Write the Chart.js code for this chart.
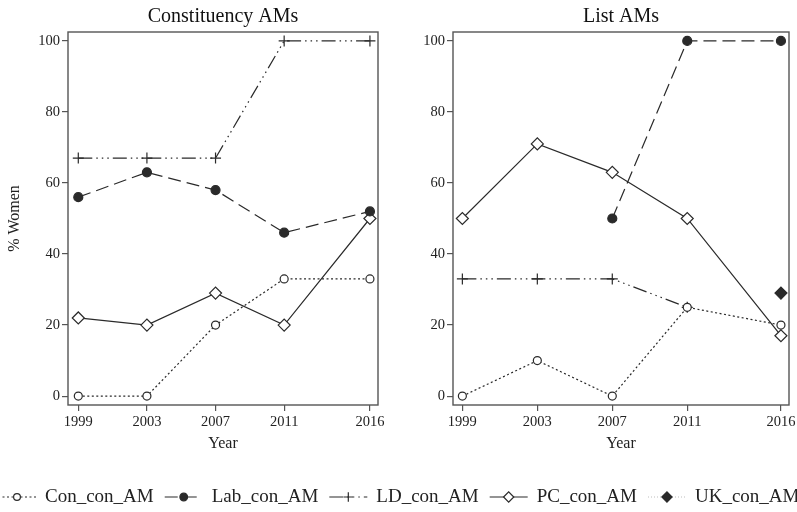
<!DOCTYPE html>
<html>
<head>
<meta charset="utf-8">
<script src="https://cdn.jsdelivr.net/npm/chart.js@4.4.0/dist/chart.umd.min.js"></script>
<style>
  html, body { margin: 0; padding: 0; background: #fff; }
  #wrap { position: relative; width: 797px; height: 512px; overflow: hidden; }
  canvas { position: absolute; }
  #constituency { left: 0; top: 0; }
  #list { left: 397px; top: 0; }
  #key { left: 0; top: 470px; }
</style>
</head>
<body>
<div id="wrap">
  <canvas id="constituency" width="397" height="460"></canvas>
  <canvas id="list" width="400" height="460"></canvas>
  <canvas id="key" width="797" height="42"></canvas>
</div>
<script>
const years = [1999, 2003, 2007, 2011, 2016];
const yTicks = [0, 20, 40, 60, 80, 100];
const seriesNames = ['Con_con_AM', 'Lab_con_AM', 'LD_con_AM', 'PC_con_AM', 'UK_con_AM'];

// % women among constituency AMs
const conConst = [0, 0, 20, 33, 33];
const labConst = [56, 63, 58, 46, 52];
const ldConst  = [67, 67, 67, 100, 100];
const pcConst  = [22, 20, 29, 20, 50];
const ukConst  = [null, null, null, null, null];

// % women among list AMs
const conList = [0, 10, 0, 25, 20];
const labList = [null, null, 50, 100, 100];
const ldList  = [33, 33, 33, 25, null];
const pcList  = [50, 71, 63, 50, 17];
const ukList  = [null, null, null, null, 29];

const SERIF = '"Liberation Serif", "Times New Roman", serif';
const INK = '#2a2a2a';
const FRAME = '#555';

const seriesStyle = [
  { dash: [2, 2.5], point: 'circle', radius: 4, fill: '#fff', line: INK },
  { dash: [13, 6], point: 'circle', radius: 4.5, fill: INK, line: INK },
  { dash: [14, 4, 1.5, 4, 1.5, 4, 1.5, 4], point: 'cross', radius: 5.5, fill: INK, line: INK },
  { dash: [], point: 'rectRot', radius: 6, fill: '#fff', line: INK },
  { dash: [1, 2], point: 'rectRot', radius: 6, fill: INK, line: '#bbb' }
];

function makeDatasets(cols) {
  return cols.map((vals, i) => {
    const st = seriesStyle[i];
    return {
      label: seriesNames[i],
      data: vals ? years.map((yr, j) => ({ x: yr, y: vals[j] })) : [],
      borderColor: st.line,
      borderWidth: 1.2,
      borderDash: st.dash,
      pointStyle: st.point,
      pointRadius: st.radius,
      pointBackgroundColor: st.fill,
      pointBorderColor: INK,
      pointBorderWidth: 1.2,
      tension: 0,
      spanGaps: false,
      clip: false
    };
  });
}

// box round the plot area
const framePlugin = {
  id: 'frame',
  beforeDatasetsDraw(chart) {
    const a = chart.chartArea, ctx = chart.ctx;
    ctx.save();
    ctx.strokeStyle = FRAME;
    ctx.lineWidth = 1.4;
    ctx.strokeRect(a.left, a.top, a.right - a.left, a.bottom - a.top);
    ctx.restore();
  }
};

function panelOptions(title, xMin, xMax, yWidth, padRight, showYTitle) {
  return {
    responsive: false,
    animation: false,
    devicePixelRatio: 1,
    layout: { padding: { left: 0, right: padRight, top: 0, bottom: 0 } },
    plugins: {
      legend: { display: false },
      tooltip: { enabled: false },
      title: {
        display: true, text: title, fullSize: false, color: '#111',
        font: { family: SERIF, size: 20, weight: 'normal' },
        padding: { top: 5, bottom: 3 }
      }
    },
    scales: {
      x: {
        type: 'linear', min: xMin, max: xMax,
        afterBuildTicks: s => { s.ticks = years.map(v => ({ value: v })); },
        afterFit: s => { s.height = 55; s.paddingLeft = 0; s.paddingRight = 0; },
        grid: { drawOnChartArea: false, tickLength: 6, color: FRAME, lineWidth: 1.2 },
        border: { display: false },
        ticks: {
          color: '#222', font: { family: SERIF, size: 14.5 }, padding: 2,
          maxRotation: 0, autoSkip: false, callback: v => String(v)
        },
        title: {
          display: true, text: 'Year', color: '#222',
          font: { family: SERIF, size: 16 }, padding: { top: 0, bottom: 7 }
        }
      },
      y: {
        min: -2.5, max: 102.5,
        afterBuildTicks: s => { s.ticks = yTicks.map(v => ({ value: v })); },
        afterFit: s => { s.width = yWidth; s.paddingTop = 0; s.paddingBottom = 0; },
        grid: { drawOnChartArea: false, tickLength: 6, color: FRAME, lineWidth: 1.2 },
        border: { display: false },
        ticks: {
          color: '#222', font: { family: SERIF, size: 14.5 }, padding: 2,
          callback: v => String(v)
        },
        title: {
          display: showYTitle, text: '% Women', color: '#222',
          font: { family: SERIF, size: 16 }, padding: { top: 5, bottom: 0 }
        }
      }
    }
  };
}

new Chart(document.getElementById('constituency'), {
  type: 'line',
  data: { datasets: makeDatasets([conConst, labConst, ldConst, pcConst, ukConst]) },
  options: panelOptions('Constituency AMs', 1998.4, 2016.47, 68, 19, true),
  plugins: [framePlugin]
});

new Chart(document.getElementById('list'), {
  type: 'line',
  data: { datasets: makeDatasets([conList, labList, ldList, pcList, ukList]) },
  options: panelOptions('List AMs', 1998.5, 2016.43, 56, 8, false),
  plugins: [framePlugin]
});

// shared key along the bottom, one row, runs off both edges
const keyPlugin = {
  id: 'seriesKey',
  afterDraw(chart) {
    const ctx = chart.ctx;
    const y = 27;
    let x = -2;
    ctx.save();
    ctx.font = '19px ' + SERIF;
    ctx.textBaseline = 'middle';
    chart.data.datasets.forEach(ds => {
      ctx.save();
      ctx.strokeStyle = ds.borderColor;
      ctx.lineWidth = 1.2;
      ctx.setLineDash(ds.borderDash);
      ctx.beginPath();
      ctx.moveTo(x, y);
      ctx.lineTo(x + 38, y);
      ctx.stroke();
      ctx.restore();

      ctx.save();
      ctx.fillStyle = ds.pointBackgroundColor;
      ctx.strokeStyle = ds.pointBorderColor;
      ctx.lineWidth = ds.pointBorderWidth;
      ctx.setLineDash([]);
      Chart.helpers.drawPoint(ctx, {
        pointStyle: ds.pointStyle, radius: ds.pointRadius * 0.85, rotation: 0, borderWidth: ds.pointBorderWidth
      }, x + 19, y);
      ctx.restore();

      ctx.fillStyle = '#222';
      ctx.fillText(ds.label, x + 47, y);
      x += 47 + ctx.measureText(ds.label).width + 11;
    });
    ctx.restore();
  }
};

new Chart(document.getElementById('key'), {
  type: 'line',
  data: { datasets: makeDatasets([null, null, null, null, null]) },
  options: {
    responsive: false, animation: false, devicePixelRatio: 1,
    plugins: { legend: { display: false }, tooltip: { enabled: false } },
    scales: { x: { display: false }, y: { display: false } }
  },
  plugins: [keyPlugin]
});
</script>
</body>
</html>
